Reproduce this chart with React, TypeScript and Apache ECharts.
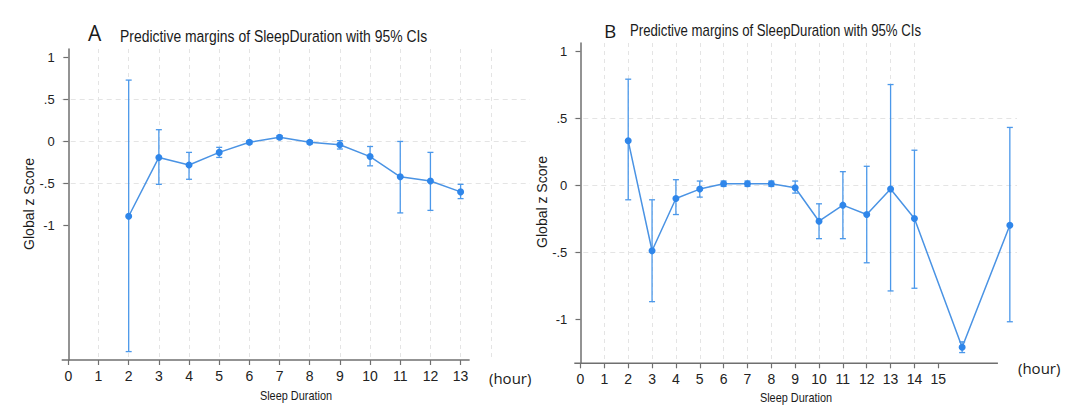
import React, { useEffect, useRef } from "react";
import * as echarts from "echarts";

// ---------- data ----------
const hoursA = [2, 3, 4, 5, 6, 7, 8, 9, 10, 11, 12, 13];
const marginA = [-0.89, -0.19, -0.28, -0.13, -0.01, 0.05, -0.01, -0.04, -0.18, -0.42, -0.47, -0.6];
const lowerA = [-2.5, -0.51, -0.45, -0.19, -0.03, 0.03, -0.03, -0.09, -0.29, -0.85, -0.82, -0.68];
const upperA = [0.73, 0.14, -0.13, -0.07, 0.01, 0.07, 0.01, 0.01, -0.06, 0.0, -0.13, -0.51];

const hoursB = [2, 3, 4, 5, 6, 7, 8, 9, 10, 11, 12, 13, 14, 16, 18];
const marginB = [0.33, -0.49, -0.1, -0.03, 0.01, 0.01, 0.01, -0.02, -0.27, -0.15, -0.22, -0.03, -0.25, -1.21, -0.3];
const lowerB = [-0.11, -0.87, -0.22, -0.09, -0.01, -0.01, -0.01, -0.06, -0.4, -0.4, -0.58, -0.79, -0.77, -1.25, -1.02];
const upperB = [0.79, -0.11, 0.04, 0.03, 0.03, 0.03, 0.03, 0.03, -0.14, 0.1, 0.14, 0.75, 0.26, -1.17, 0.43];

const xTicksA = [0, 1, 2, 3, 4, 5, 6, 7, 8, 9, 10, 11, 12, 13];
const xTicksB = [0, 1, 2, 3, 4, 5, 6, 7, 8, 9, 10, 11, 12, 13, 14, 15];
const xGridHours = [0, 1, 2, 3, 4, 5, 6, 7, 8, 9, 10, 11, 12, 13, 14, 15];
const yTicks = [-1, -0.5, 0, 0.5, 1];

const titleText = "Predictive margins of SleepDuration with 95% CIs";
const yTitle = "Global z Score";
const xTitle = "Sleep Duration";
const unitText = "(hour)";

// ---------- style ----------
const SANS = "'Liberation Sans', Arial, sans-serif";
const ROUND = "'Open Sans', 'Noto Sans', sans-serif";
const AXIS = "#6f6f6f";
const GRID = "#e4e4e4";
const LINE = "#4a93e4";
const DOT = "#2f86ea";
const BAR = "#4b98ea";

const fmtY = (v: number) => {
  if (v === 0) return "0";
  return String(v).replace(/^(-?)0\./, "$1.");
};

const errRender = (_p: any, api: any) => {
  const x = api.value(0);
  const lo = api.coord([x, api.value(1)]);
  const hi = api.coord([x, api.value(2)]);
  const w = 3;
  const style = { stroke: BAR, lineWidth: 1.3, fill: "none" };
  return {
    type: "group",
    children: [
      { type: "line", shape: { x1: lo[0], y1: lo[1], x2: hi[0], y2: hi[1] }, style },
      { type: "line", shape: { x1: lo[0] - w, y1: lo[1], x2: lo[0] + w, y2: lo[1] }, style },
      { type: "line", shape: { x1: hi[0] - w, y1: hi[1], x2: hi[0] + w, y2: hi[1] }, style },
    ],
  };
};

const X_MIN_A = -0.22, X_MAX_A = 15.3, X_END_A = 13.3;
const Y_MIN_A = -2.6, Y_MAX_A = 1.1;
const X_MIN_B = -0.26, X_MAX_B = 18.3, X_END_B = 17.5;
const Y_MIN_B = -1.33, Y_MAX_B = 1.06;

function gridXAxis(gridIndex: number, min: number, max: number) {
  return {
    type: "value", gridIndex, min, max, position: "bottom",
    axisLine: { show: false },
    axisTick: { show: false, customValues: xGridHours },
    axisLabel: { show: false },
    splitLine: { show: true, showMinLine: false, showMaxLine: false, lineStyle: { color: GRID, type: [4, 4], width: 1 } },
  };
}
function labelXAxis(gridIndex: number, min: number, max: number, ticks: number[]) {
  return {
    type: "value", gridIndex, min, max, position: "bottom",
    axisLine: { show: false },
    axisTick: { show: true, customValues: ticks, length: 5, lineStyle: { color: AXIS, width: 1.2 } },
    axisLabel: { show: true, customValues: ticks, margin: 9, color: "#222", fontFamily: SANS, fontSize: 14 },
    splitLine: { show: false },
  };
}
function yAxisCfg(gridIndex: number, min: number, max: number) {
  return {
    type: "value", gridIndex, min, max,
    axisLine: { show: true, lineStyle: { color: AXIS, width: 1.5 } },
    axisTick: { show: true, customValues: yTicks, length: 5, lineStyle: { color: AXIS, width: 1.2 } },
    axisLabel: { show: true, customValues: yTicks, margin: 7, color: "#222", fontFamily: SANS, fontSize: 13, formatter: fmtY },
    splitLine: { show: true, showMinLine: false, showMaxLine: false, lineStyle: { color: GRID, type: [5, 4], width: 1 } },
  };
}

function textEl(text: string, x: number, y: number, font: string, size: number, extra: any = {}) {
  const { align, ...rest } = extra;
  return {
    type: "text", x, y, silent: true, ...rest,
    style: { text, fill: "#1a1a1a", font: `${size}px ${font}`, align: align || "left", verticalAlign: "middle" },
  };
}

export default function App() {
  const ref = useRef<HTMLDivElement>(null);
  useEffect(() => {
    if (!ref.current) return;
    const chart = echarts.init(ref.current, undefined, { renderer: "svg" });
    const option: any = {
      animation: false,
      backgroundColor: "#ffffff",
      grid: [
        { left: 61.7, top: 49, width: 468.3, height: 311 },
        { left: 574.3, top: 43, width: 442.7, height: 320.3 },
      ],
      xAxis: [
        gridXAxis(0, X_MIN_A, X_MAX_A),
        labelXAxis(0, X_MIN_A, X_MAX_A, xTicksA),
        gridXAxis(1, X_MIN_B, X_MAX_B),
        labelXAxis(1, X_MIN_B, X_MAX_B, xTicksB),
      ],
      yAxis: [yAxisCfg(0, Y_MIN_A, Y_MAX_A), yAxisCfg(1, Y_MIN_B, Y_MAX_B)],
      series: [
        {
          type: "custom", xAxisIndex: 0, yAxisIndex: 0, renderItem: errRender,
          encode: { x: 0, y: [1, 2] }, z: 2,
          data: hoursA.map((h, i) => [h, lowerA[i], upperA[i]]),
        },
        {
          type: "line", xAxisIndex: 0, yAxisIndex: 0, z: 3,
          symbol: "circle", symbolSize: 7,
          lineStyle: { color: LINE, width: 1.5 }, itemStyle: { color: DOT },
          data: hoursA.map((h, i) => [h, marginA[i]]),
        },
        {
          type: "custom", xAxisIndex: 2, yAxisIndex: 1, renderItem: errRender,
          encode: { x: 0, y: [1, 2] }, z: 2,
          data: hoursB.map((h, i) => [h, lowerB[i], upperB[i]]),
        },
        {
          type: "line", xAxisIndex: 2, yAxisIndex: 1, z: 3,
          symbol: "circle", symbolSize: 7,
          lineStyle: { color: LINE, width: 1.5 }, itemStyle: { color: DOT },
          data: hoursB.map((h, i) => [h, marginB[i]]),
        },
      ],
    };
    chart.setOption(option);

    const a0 = chart.convertToPixel({ xAxisIndex: 0, yAxisIndex: 0 }, [X_MIN_A, Y_MIN_A]) as number[];
    const a1 = chart.convertToPixel({ xAxisIndex: 0, yAxisIndex: 0 }, [X_END_A, Y_MIN_A]) as number[];
    const b0 = chart.convertToPixel({ xAxisIndex: 2, yAxisIndex: 1 }, [X_MIN_B, Y_MIN_B]) as number[];
    const b1 = chart.convertToPixel({ xAxisIndex: 2, yAxisIndex: 1 }, [X_END_B, Y_MIN_B]) as number[];

    chart.setOption({
      graphic: [
        { type: "line", silent: true, z: 10, shape: { x1: a0[0], y1: a0[1], x2: a1[0], y2: a1[1] }, style: { stroke: AXIS, lineWidth: 1.5 } },
        { type: "line", silent: true, z: 10, shape: { x1: b0[0], y1: b0[1], x2: b1[0], y2: b1[1] }, style: { stroke: AXIS, lineWidth: 1.5 } },
        textEl("A", 88, 33, ROUND, 21),
        textEl(titleText, 120, 36, SANS, 17, { scaleX: 0.82 }),
        textEl("B", 604, 31, ROUND, 19),
        textEl(titleText, 630, 31, SANS, 16, { scaleX: 0.825 }),
        textEl(yTitle, 29, 204, SANS, 14, { rotation: Math.PI / 2, align: "center" }),
        textEl(yTitle, 542, 202, SANS, 14, { rotation: Math.PI / 2, align: "center" }),
        textEl(xTitle, 296, 396, SANS, 13, { align: "center", scaleX: 0.84 }),
        textEl(xTitle, 796, 398, SANS, 13, { align: "center", scaleX: 0.84 }),
        textEl(unitText, 489, 378, ROUND, 15),
        textEl(unitText, 1018, 368, ROUND, 15),
      ],
    });

    return () => chart.dispose();
  }, []);
  return <div ref={ref} style={{ position: "fixed", left: 0, top: 0, width: 1080, height: 417 }} />;
}
